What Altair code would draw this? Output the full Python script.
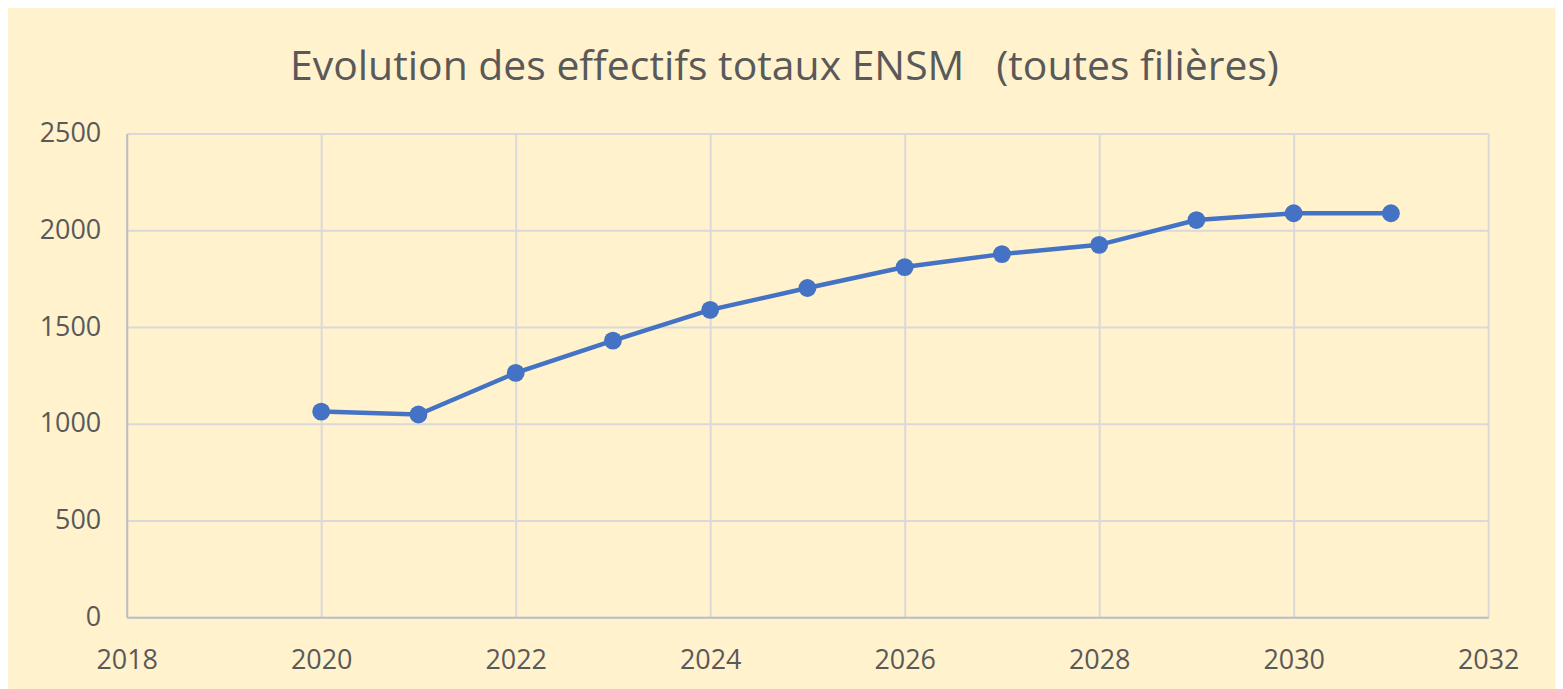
import altair as alt
import pandas as pd

years = [2020, 2021, 2022, 2023, 2024, 2025, 2026, 2027, 2028, 2029, 2030, 2031]
effectifs = [1063, 1048, 1263, 1430, 1589, 1702, 1810, 1877, 1925, 2053, 2088, 2088]
x_ticks = [2018, 2020, 2022, 2024, 2026, 2028, 2030, 2032]
y_ticks = [0, 500, 1000, 1500, 2000, 2500]
title_text = "Evolution des effectifs totaux ENSM\u00a0\u00a0\u00a0(toutes filières)"

df = pd.DataFrame({"annee": years, "effectif": effectifs})

FONT = "Open Sans"
GREY = "#595959"

base = alt.Chart(df).encode(
    x=alt.X("annee:Q",
            scale=alt.Scale(domain=[2018, 2032], nice=False, zero=False),
            axis=alt.Axis(values=x_ticks, format="d", title=None, ticks=False,
                          grid=True, gridColor="#D9D9D9", gridWidth=2,
                          domainColor="#BFBFBF", domainWidth=2,
                          labelFlush=False,
                          labelFont=FONT, labelFontSize=27, labelColor=GREY,
                          labelPadding=30)),
    y=alt.Y("effectif:Q",
            scale=alt.Scale(domain=[0, 2500], nice=False),
            axis=alt.Axis(values=y_ticks, format="d", title=None, ticks=False,
                          grid=True, gridColor="#D9D9D9", gridWidth=2,
                          domainColor="#BFBFBF", domainWidth=2,
                          labelFlush=False,
                          labelFont=FONT, labelFontSize=27, labelColor=GREY,
                          labelPadding=26)),
)

line = base.mark_line(color="#4472C4", strokeWidth=4.5)
pts = base.mark_point(filled=True, color="#4472C4", size=320, opacity=1)

chart = (line + pts).properties(
    width=1365,
    height=485,
    title=alt.TitleParams(text=title_text, font=FONT, fontSize=41,
                          fontWeight="normal", color=GREY, anchor="middle",
                          frame="group", dx=-23, offset=31),
    padding={"left": 119, "top": 125, "right": 67, "bottom": 71},
    autosize=alt.AutoSizeParams(type="none"),
    background="#FFF2CC",
).configure_view(stroke=None)

chart.save("out.html", embed_options={"renderer": "svg", "actions": False})
